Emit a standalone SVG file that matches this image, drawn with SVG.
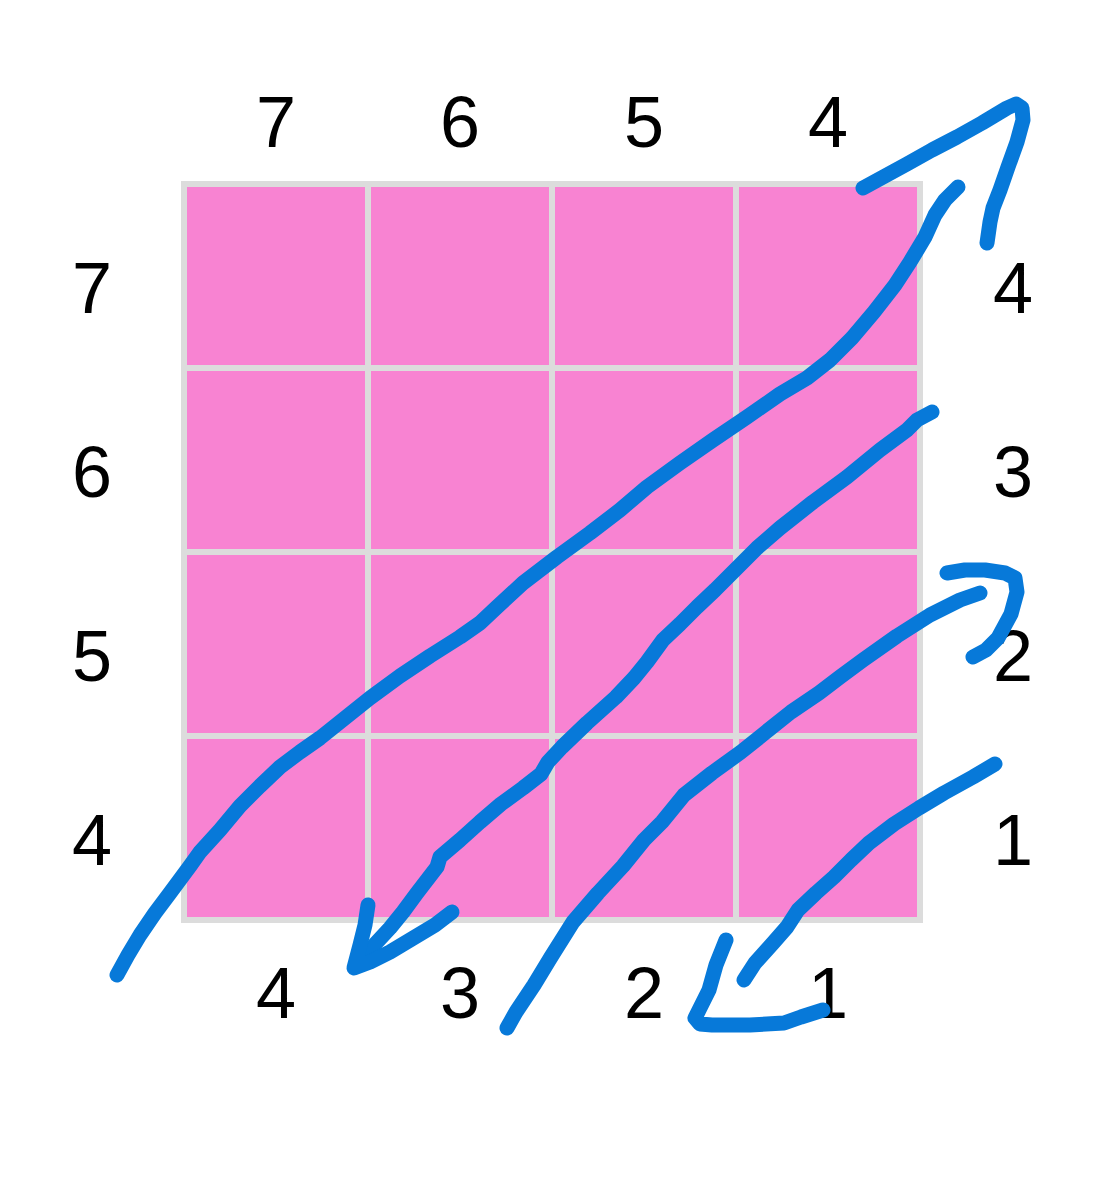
<svg xmlns="http://www.w3.org/2000/svg" width="1106" height="1200" viewBox="0 0 1106 1200">
<style>
.cell{fill:#f883d2;}
.gl{stroke:#dcdcdc;stroke-width:6;fill:none;}
.lbl{font-family:"Liberation Sans",Arial,sans-serif;font-size:72px;fill:#000;text-anchor:middle;}
.ink{fill:none;stroke:#0779d9;stroke-width:15;stroke-linecap:round;stroke-linejoin:round;}
</style>
<rect width="1106" height="1200" fill="#fff"/>
<g id="grid">
<rect class="cell" x="184" y="184" width="736" height="736"/>
<path class="gl" d="M184,184H920V920H184Z M368,184V920 M552,184V920 M736,184V920 M184,368H920 M184,552H920 M184,736H920"/>
</g>
<g id="labels">
<g id="top">
<text class="lbl" x="276" y="147">7</text>
<text class="lbl" x="460" y="147">6</text>
<text class="lbl" x="644" y="147">5</text>
<text class="lbl" x="828" y="147">4</text>
</g>
<g id="left">
<text class="lbl" x="92" y="313">7</text>
<text class="lbl" x="92" y="497">6</text>
<text class="lbl" x="92" y="681">5</text>
<text class="lbl" x="92" y="865">4</text>
</g>
<g id="right">
<text class="lbl" x="1013" y="313">4</text>
<text class="lbl" x="1013" y="497">3</text>
<text class="lbl" x="1013" y="681">2</text>
<text class="lbl" x="1013" y="865">1</text>
</g>
<g id="bottom">
<text class="lbl" x="276" y="1018">4</text>
<text class="lbl" x="460" y="1018">3</text>
<text class="lbl" x="644" y="1018">2</text>
<text class="lbl" x="828" y="1018">1</text>
</g>
</g>
<g id="connectors">
<polyline class="ink" points="117,975 128,955 140,935 155,913 170,893 190,866 200,852 220,830 240,806 260,786 280,767 300,752 320,738 345,718 370,698 400,676 430,656 460,637 480,623 497,607 523,583 557,557 590,533 620,510 647,487 680,463 713,440 747,417 780,394 807,378 830,360 852,338 874,312 895,285 910,262 925,237 935,215 945,200 958,187"/>
<polyline class="ink" points="863,188 885,176 907,164 932,150 957,137 982,123 1007,108 1016,104 1022,108 1023,120 1017,142 1008,167 1000,190 993,208 990,222 987,243"/>
<polyline class="ink" points="932,412 917,420 907,430 880,450 847,477 813,502 780,528 757,548 733,572 715,590 697,607 680,624 663,640 647,662 634,678 616,697 587,723 562,747 548,762 541,774 523,788 501,804 480,822 460,840 440,857 437,867 427,880 417,893 403,912 390,928 377,942 364,956 356,966"/>
<polyline class="ink" points="368,905 365,925 360,945 354,968 370,962 390,952 415,937 435,925 452,912"/>
<polyline class="ink" points="507,1028 516,1012 534,985 551,957 573,922 598,893 623,866 644,840 662,822 684,795 712,773 741,752 766,732 791,712 819,693 840,677 863,660 897,636 930,615 960,600 980,593"/>
<polyline class="ink" points="947,573 965,570 985,570 1005,573 1015,578 1017,592 1011,614 998,638 986,650 973,657"/>
<polyline class="ink" points="995,764 973,777 944,793 919,808 894,824 869,843 851,860 834,877 816,893 798,910 787,927 773,943 755,963 744,980"/>
<polyline class="ink" points="726,940 720,955 716,965 709,990 700,1008 695,1018 700,1024 712,1025 750,1025 784,1023 801,1017 823,1010"/>
</g>
</svg>
